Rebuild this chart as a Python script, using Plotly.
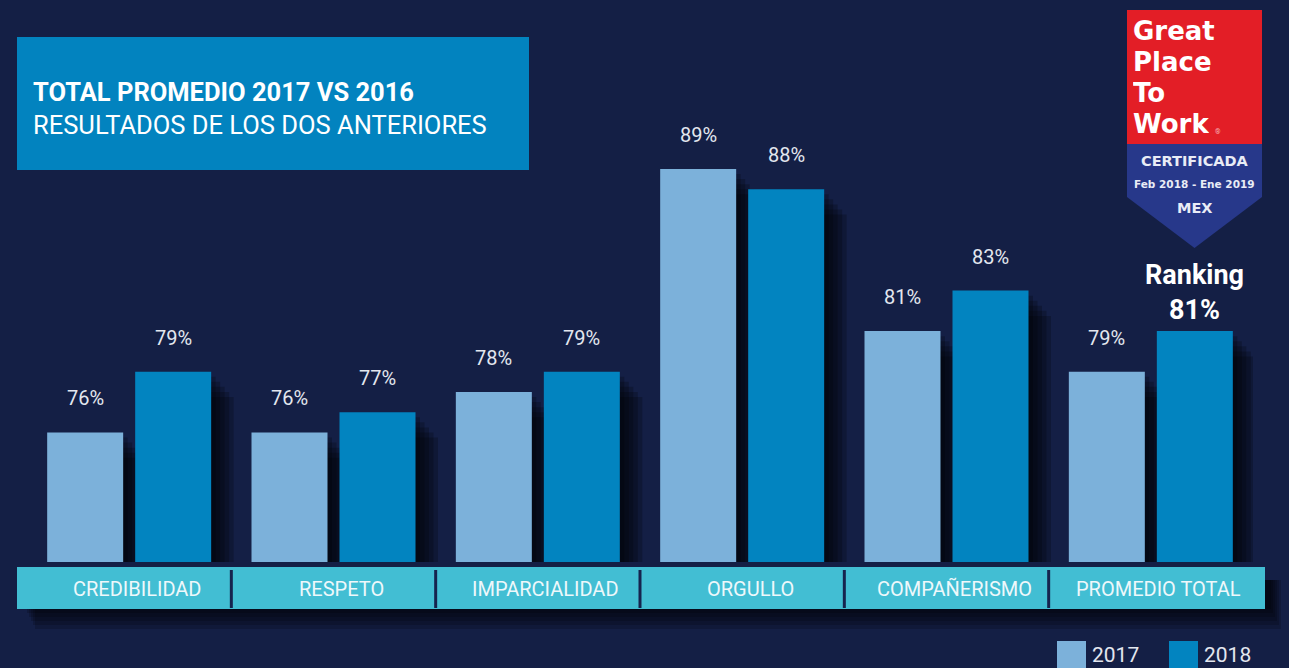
import plotly.graph_objects as go

categories = ["CREDIBILIDAD", "RESPETO", "IMPARCIALIDAD", "ORGULLO", "COMPAÑERISMO", "PROMEDIO TOTAL"]
series_names = ["2017", "2018"]
values_2017 = [76, 76, 78, 89, 81, 79]
values_2018 = [79, 77, 79, 88, 83, 81]
title_bold = "TOTAL PROMEDIO 2017 VS 2016"
title_sub = "RESULTADOS DE LOS DOS ANTERIORES"

BG = "#141f45"
C17 = "#7cb1da"
C18 = "#0284c0"
BAND = "#42bed3"
TXT = "#e3e7ef"

W, H = 1289, 668
ML, MR, MT, MB = 27, 36, 0, 106
PW, PH = W - ML - MR, H - MT - MB
UNIT = PW / len(categories)          # pixels per category
BAR_W = 76 / UNIT
OFF17 = -82 / UNIT
OFF18 = 6 / UNIT


def px(x):
    return (x - ML) / PW


def py(y):
    return (H - MB - y) / PH


fig = go.Figure()

# soft drop shadows (drawn under the bars)
for k in range(1, 6):
    for vals, off in [(values_2017, OFF17), (values_2018, OFF18)]:
        fig.add_trace(go.Bar(
            x=list(range(len(categories))), y=[v - 0.25 * k for v in vals],
            width=BAR_W, offset=off + 4.5 * k / UNIT,
            marker=dict(color="rgba(0,0,0,0.21)", line=dict(width=0)),
            showlegend=False, hoverinfo="skip"))

for name, vals, col, off in [(series_names[0], values_2017, C17, OFF17),
                             (series_names[1], values_2018, C18, OFF18)]:
    fig.add_trace(go.Bar(
        x=list(range(len(categories))), y=vals, name=name, width=BAR_W, offset=off,
        marker=dict(color=col, line=dict(width=0)),
        customdata=categories, hovertemplate="%{customdata}: %{y}%<extra>" + name + "</extra>",
        showlegend=False))

annotations = []
shapes = []

# value labels
for i, c in enumerate(categories):
    annotations.append(dict(x=i + OFF17 + BAR_W / 2, y=values_2017[i], xref="x", yref="y",
                            text=f"{values_2017[i]}%", showarrow=False, yanchor="middle",
                            yshift=34, font=dict(family="Roboto", size=20, color=TXT)))
    if i == len(categories) - 1:
        annotations.append(dict(x=i + OFF18 + BAR_W / 2, y=values_2018[i], xref="x", yref="y",
                                text=f"Ranking<br>{values_2018[i]}%", showarrow=False,
                                yanchor="bottom", yshift=3,
                                font=dict(family="Roboto", size=27, color="white", weight="bold")))
    else:
        annotations.append(dict(x=i + OFF18 + BAR_W / 2, y=values_2018[i], xref="x", yref="y",
                                text=f"{values_2018[i]}%", showarrow=False, yanchor="middle",
                                yshift=34, font=dict(family="Roboto", size=20, color=TXT)))

# category band and its shadow
for k in range(6):
    shapes.append(dict(type="rect", xref="paper", yref="paper",
                       x0=px(25 + 2 * k), x1=px(1271 + 2 * k),
                       y0=py(609 + 4 * k), y1=py(580), fillcolor="rgba(0,0,0,0.17)",
                       line=dict(width=0), layer="below"))
shapes.append(dict(type="rect", xref="paper", yref="paper", x0=px(17), x1=px(1265),
                   y0=py(609), y1=py(567), fillcolor=BAND, line=dict(width=0)))
for k in range(len(categories) - 1):
    shapes.append(dict(type="line", xref="x", yref="paper", x0=k + 0.5, x1=k + 0.5,
                       y0=py(608), y1=py(570), line=dict(color="#16244e", width=3)))
for i, c in enumerate(categories):
    annotations.append(dict(x=i, y=py(589), xref="x", yref="paper", text=c, showarrow=False,
                            xshift=8, yanchor="middle",
                            font=dict(family="Roboto", size=20, color="#eef8fb")))

# title box
shapes.append(dict(type="rect", xref="paper", yref="paper", x0=px(17), x1=px(529),
                   y0=py(170), y1=py(37), fillcolor="#0283bf", line=dict(width=0), layer="below"))
annotations.append(dict(x=px(31), y=py(92), xref="paper", yref="paper", text=title_bold,
                        showarrow=False, xanchor="left", yanchor="middle",
                        font=dict(family="Roboto", size=25.5, color="white", weight="bold")))
annotations.append(dict(x=px(31), y=py(125), xref="paper", yref="paper", text=title_sub,
                        showarrow=False, xanchor="left", yanchor="middle",
                        font=dict(family="Roboto", size=25.5, color="white")))

# legend
for name, col, x0 in [(series_names[0], C17, 1057), (series_names[1], C18, 1169)]:
    shapes.append(dict(type="rect", xref="paper", yref="paper", x0=px(x0), x1=px(x0 + 29),
                       y0=py(670), y1=py(641), fillcolor=col, line=dict(width=0)))
    annotations.append(dict(x=px(x0 + 33), y=py(655), xref="paper", yref="paper", text=name,
                            showarrow=False, xanchor="left", yanchor="middle",
                            font=dict(family="Roboto", size=21, color=TXT)))

# Great Place To Work badge
shapes.append(dict(type="rect", xref="paper", yref="paper", x0=px(1127), x1=px(1262),
                   y0=py(144), y1=py(10), fillcolor="#e31e26", line=dict(width=0)))
path = (f"M {px(1127)},{py(144)} L {px(1262)},{py(144)} L {px(1262)},{py(197)} "
        f"L {px(1194.5)},{py(248)} L {px(1127)},{py(197)} Z")
shapes.append(dict(type="path", xref="paper", yref="paper", path=path,
                   fillcolor="#27388a", line=dict(width=0)))
for txt, yy in [("Great", 31), ("Place", 62), ("To", 93), ("Work", 124)]:
    annotations.append(dict(x=px(1131), y=py(yy), xref="paper", yref="paper", text=txt,
                            showarrow=False, xanchor="left", yanchor="middle", height=28,
                            font=dict(family="DejaVu Sans", size=26, color="white", weight="bold")))
annotations.append(dict(x=px(1213), y=py(132), xref="paper", yref="paper", text="®",
                        showarrow=False, xanchor="left", yanchor="middle",
                        font=dict(family="Roboto", size=7, color="#f5b7b9")))
for txt, yy, sz in [("CERTIFICADA", 161, 14.5), ("Feb 2018 - Ene 2019", 184, 10.5), ("MEX", 208, 14.5)]:
    annotations.append(dict(x=px(1194.5), y=py(yy), xref="paper", yref="paper", text=txt,
                            showarrow=False, xanchor="center", yanchor="middle",
                            font=dict(family="DejaVu Sans", size=sz, color="#e9ecf6", weight="bold")))

y0 = 69.61
fig.update_layout(
    width=W, height=H,
    margin=dict(l=ML, r=MR, t=MT, b=MB, pad=0),
    paper_bgcolor=BG, plot_bgcolor=BG,
    barmode="overlay",
    xaxis=dict(showticklabels=False, showgrid=False, zeroline=False, showline=False,
               ticks="", range=[-0.5, len(categories) - 0.5]),
    yaxis=dict(range=[y0, y0 + PH / 20.27], showticklabels=False, showgrid=False,
               zeroline=False, showline=False, ticks=""),
    shapes=shapes, annotations=annotations,
    showlegend=False,
)

fig.write_html("out.html", config={"displayModeBar": False},
               post_script="document.body.style.margin='0';document.body.style.background='" + BG + "';")
